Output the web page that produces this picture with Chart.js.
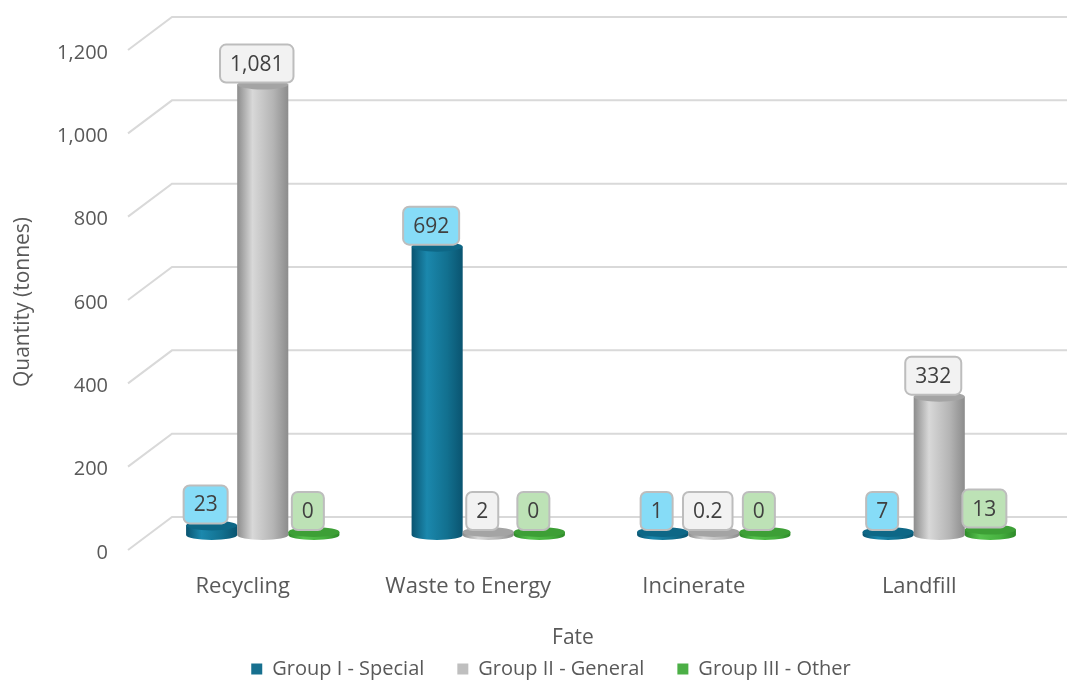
<!DOCTYPE html>
<html>
<head>
<meta charset="utf-8">
<title>Waste quantity by fate</title>
<script src="https://cdn.jsdelivr.net/npm/chart.js@4.4.1/dist/chart.umd.min.js"></script>
<style>
  html, body { margin: 0; padding: 0; background: #fff; }
</style>
</head>
<body>
<canvas id="fateChart" width="1067" height="682"></canvas>
<script>
const fates = ['Recycling', 'Waste to Energy', 'Incinerate', 'Landfill'];
const seriesNames = ['Group I - Special', 'Group II - General', 'Group III - Other'];
const specialQty = [23, 692, 1, 7];
const generalQty = [1081, 2, 0.2, 332];
const otherQty = [0, 0, 0, 13];
const qtyTicks = [0, 200, 400, 600, 800, 1000, 1200];
const xTitle = 'Fate';
const yTitle = 'Quantity (tonnes)';

// colours for each group: legend swatch, cylinder shading, value tag fill
const looks = [
    { swatch: '#17708f', edge: '#0a5470', shine: '#1b88ad', body: '#12708f', cap: '#0e6786', tag: '#86dcf7' },
    { swatch: '#bfbfbf', edge: '#8c8c8c', shine: '#d8d8d8', body: '#b5b5b5', cap: '#a4a4a4', tag: '#f2f2f2' },
    { swatch: '#4caf46', edge: '#2e8a29', shine: '#56c24e', body: '#46b03f', cap: '#3d9f36', tag: '#bde2b6' }
];

const textColor = '#595959';
const titleFont = '21px "Open Sans", sans-serif';
const fmt = v => Number(v).toLocaleString('en-US');

Chart.defaults.font.family = '"Open Sans", sans-serif';
Chart.defaults.color = textColor;

function drawCylinder(ctx, x, top, base, w, look) {
    const rx = w / 2, ry = 5;
    if (base - top < 3) top = base - 3;

    const grad = ctx.createLinearGradient(x - rx, 0, x + rx, 0);
    grad.addColorStop(0, look.edge);
    grad.addColorStop(0.3, look.shine);
    grad.addColorStop(0.7, look.body);
    grad.addColorStop(1, look.edge);

    ctx.beginPath();
    ctx.moveTo(x - rx, top);
    ctx.lineTo(x - rx, base);
    ctx.ellipse(x, base, rx, ry, 0, Math.PI, 0, true);
    ctx.lineTo(x + rx, top);
    ctx.closePath();
    ctx.fillStyle = grad;
    ctx.fill();

    ctx.beginPath();
    ctx.ellipse(x, top, rx, ry, 0, 0, Math.PI * 2);
    ctx.fillStyle = look.cap;
    ctx.fill();
}

function roundBox(ctx, x, y, w, h, r) {
    ctx.beginPath();
    ctx.moveTo(x + r, y);
    ctx.arcTo(x + w, y, x + w, y + h, r);
    ctx.arcTo(x + w, y + h, x, y + h, r);
    ctx.arcTo(x, y + h, x, y, r);
    ctx.arcTo(x, y, x + w, y, r);
    ctx.closePath();
}

function drawTag(ctx, cx, bottom, text, fill) {
    ctx.font = '21px "Open Sans", sans-serif';
    const w = Math.max(ctx.measureText(text).width + 20, 32);
    const h = 38;
    roundBox(ctx, cx - w / 2, bottom - h, w, h, 6);
    ctx.fillStyle = fill;
    ctx.fill();
    ctx.lineWidth = 2;
    ctx.strokeStyle = '#bdbdbd';
    ctx.stroke();
    ctx.fillStyle = '#404040';
    ctx.textAlign = 'center';
    ctx.textBaseline = 'middle';
    ctx.fillText(text, cx, bottom - h / 2 + 1);
}

// 3D look: slanted grid walls, cylinders instead of flat bars, value tags, axis titles
const cylinderBars = {
    id: 'cylinderBars',
    beforeDatasetsDraw(chart) {
        const { ctx, chartArea, scales: { y } } = chart;
        ctx.save();
        ctx.strokeStyle = '#d9d9d9';
        ctx.lineWidth = 2;
        qtyTicks.forEach(v => {
            const p = y.getPixelForValue(v);
            ctx.beginPath();
            ctx.moveTo(chartArea.left - 22, p + 15);
            ctx.lineTo(chartArea.left + 22, p - 18);
            ctx.lineTo(chart.width, p - 18);
            ctx.stroke();
        });
        ctx.restore();
    },
    beforeDatasetDraw() {
        return false;
    },
    afterDatasetsDraw(chart) {
        const ctx = chart.ctx;
        ctx.save();
        chart.data.datasets.forEach((ds, di) => {
            chart.getDatasetMeta(di).data.forEach(bar => {
                const { x, y, base, width } = bar.getProps(['x', 'y', 'base', 'width'], true);
                drawCylinder(ctx, x, y, base, width, looks[di]);
            });
        });
        chart.data.datasets.forEach((ds, di) => {
            chart.getDatasetMeta(di).data.forEach((bar, i) => {
                const { x, y, base } = bar.getProps(['x', 'y', 'base'], true);
                drawTag(ctx, x - 6, Math.min(y, base - 3) - 2, fmt(ds.data[i]), looks[di].tag);
            });
        });
        ctx.restore();
    },
    afterDraw(chart) {
        const { ctx, chartArea, scales: { x } } = chart;
        ctx.save();
        ctx.font = titleFont;
        ctx.fillStyle = textColor;
        ctx.textAlign = 'center';
        ctx.textBaseline = 'middle';
        ctx.fillText(xTitle, (chartArea.left + chartArea.right) / 2 - 28, x.top + 103);

        ctx.translate(23, (chartArea.top + chartArea.bottom) / 2 + 17);
        ctx.rotate(-Math.PI / 2);
        ctx.fillText(yTitle, 0, 0);
        ctx.restore();
    }
};

new Chart(document.getElementById('fateChart'), {
    type: 'bar',
    data: {
        labels: fates,
        datasets: [specialQty, generalQty, otherQty].map((d, i) => ({
            label: seriesNames[i],
            data: d,
            backgroundColor: looks[i].swatch,
            borderWidth: 0,
            categoryPercentage: 0.68,
            barPercentage: 1
        }))
    },
    options: {
        responsive: false,
        animation: false,
        devicePixelRatio: 1,
        layout: { padding: { left: 50, right: 15, top: 35, bottom: -7 } },
        plugins: {
            legend: {
                position: 'bottom',
                labels: { boxWidth: 11, boxHeight: 11, padding: 33, color: textColor, font: { size: 20 } }
            },
            tooltip: { enabled: false }
        },
        scales: {
            x: {
                grid: { display: false, drawTicks: false },
                border: { display: false },
                ticks: { color: textColor, font: { size: 22 }, padding: 39, labelOffset: -20, maxRotation: 0, autoSkip: false },
                afterFit: s => { s.height = 91; }
            },
            y: {
                min: 0,
                max: 1200,
                grid: { display: false, drawTicks: false },
                border: { display: false },
                afterBuildTicks: s => { s.ticks = qtyTicks.map(v => ({ value: v })); },
                ticks: { color: textColor, font: { size: 20 }, padding: 42, labelOffset: 18, callback: v => fmt(v) },
                afterFit: s => {
                    s.width = 100;
                    s.paddingTop = 0;
                    s.paddingBottom = 0;
                }
            }
        }
    },
    plugins: [cylinderBars]
});
</script>
</body>
</html>
